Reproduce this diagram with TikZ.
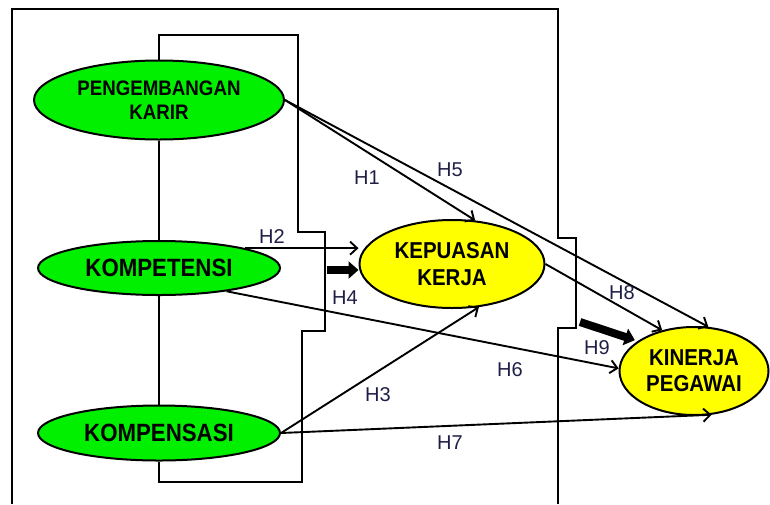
\documentclass[tikz,border=0pt]{standalone}
\usepackage{fontspec}
\setmainfont{Liberation Sans}
\newfontfamily\nar[FakeStretch=0.89]{Liberation Sans}
\usetikzlibrary{shapes.geometric,arrows.meta}
\definecolor{gr}{RGB}{0,240,0}
\definecolor{yl}{RGB}{255,255,0}
\definecolor{lab}{RGB}{30,30,70}
\begin{document}
\begin{tikzpicture}[x=1pt,y=-1pt,
  lv/.style={ellipse,draw,line width=2pt,fill=gr,inner sep=0pt,align=center},
  dv/.style={lv,fill=yl},
  frame/.style={line width=2.6pt,line join=miter},
  arr/.style={line width=1.9pt,-{Straight Barb[length=7pt,width=13pt]}},
  big/.style={line width=8pt,-{Triangle[length=10pt,width=17pt]}},
  hl/.style={font=\fontsize{20}{22}\selectfont,text=lab,inner sep=0pt}]
\useasboundingbox (0,0) rectangle (770,504);

% latent variables
\node[lv,minimum width=250pt,minimum height=79pt,font=\nar\bfseries\fontsize{21}{24}\selectfont] (pk) at (159,100) {PENGEMBANGAN\\KARIR};
\node[lv,minimum width=242pt,minimum height=54pt,font=\nar\bfseries\fontsize{25}{27}\selectfont] (kt) at (159,268) {KOMPETENSI};
\node[lv,minimum width=242pt,minimum height=55pt,font=\nar\bfseries\fontsize{25}{27}\selectfont] (km) at (159,433) {KOMPENSASI};
\node[dv,minimum width=185pt,minimum height=88pt,font=\nar\bfseries\fontsize{23}{27}\selectfont] (kp) at (452,264) {KEPUASAN\\KERJA};
\node[dv,minimum width=149pt,minimum height=88pt,font=\nar\bfseries\fontsize{23}{26}\selectfont] (kn) at (694,371) {KINERJA\\PEGAWAI};

% frames
\draw[frame] (12,504) -- (12,9) -- (558,9) -- (558,238) -- (576,238) -- (576,328) -- (558,328) -- (558,504);
\draw[frame] (pk.north) |- (298,35) -- (298,232) -- (325,232) -- (325,331) -- (302,331) -- (302,482) -| (km.south);
\draw[frame] (pk.south) -- (kt.north);
\draw[frame] (kt.south) -- (km.north);

% paths
\draw[arr] (pk.east) -- (kp.62);
\draw[arr] (pk.east) -- (kn.72);
\draw[arr] (kt.13) -- (kt.13 -| kp.west);
\draw[arr] (kt.-19) -- (kn.178);
\draw[arr] (km.east) -- (kp.-58);
\draw[arr] (km.east) -- (kn.-68);
\draw[arr] (kp.east) -- (kn.128);

\coordinate (h4s) at (327,270);
\coordinate (h9s) at (580,322);
\draw[big] (h4s) -- (kp.west |- h4s);
\draw[big,shorten >=3pt] (h9s) -- (kn.152);

% labels
\node[hl] (l1) at (367,178) {H1};
\node[hl] (l2) at (272,237) {H2};
\node[hl] (l3) at (378,395) {H3};
\node[hl] (l4) at (345,298) {H4};
\node[hl] (l5) at (450,170) {H5};
\node[hl] (l6) at (510,370) {H6};
\node[hl] (l7) at (450,443) {H7};
\node[hl] (l8) at (622,293) {H8};
\node[hl] (l9) at (597,348) {H9};
\end{tikzpicture}
\end{document}
